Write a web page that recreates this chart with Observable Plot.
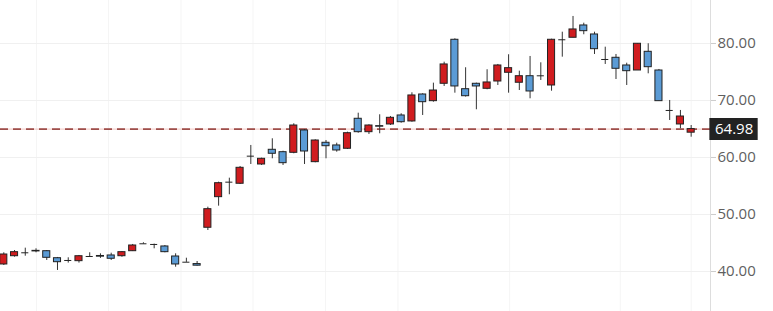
<!DOCTYPE html>
<html><head><meta charset="utf-8">
<script src="https://cdn.jsdelivr.net/npm/d3@7"></script>
<script src="https://cdn.jsdelivr.net/npm/@observablehq/plot@0.6"></script>
<style>body{margin:0;background:#fff}</style>
</head><body><div id="chart"></div>
<script>
const open  = [41.23,42.68,43.28,43.62,43.56,42.33,41.93,41.81,42.63,42.72,42.81,42.68,43.56,44.86,44.74,44.39,42.63,41.63,41.30,47.67,53.04,55.67,55.39,60.23,58.77,61.35,60.93,60.82,64.74,59.18,62.58,62.11,61.53,66.79,64.44,65.50,65.79,67.37,66.32,71.05,69.88,72.93,80.65,71.98,72.93,72.05,73.33,74.86,73.11,74.26,74.33,72.63,80.65,81.00,83.16,81.58,77.19,77.49,76.14,75.26,78.54,75.26,68.25,65.79,64.35];
const high  = [43.28,43.68,44.09,43.98,43.68,42.46,42.40,42.81,43.28,43.10,43.21,43.50,44.74,45.04,44.80,44.56,43.10,42.33,41.75,51.28,55.67,56.37,58.42,62.11,59.88,63.28,61.10,65.91,64.91,63.10,62.98,62.51,64.44,67.77,65.74,67.49,67.19,67.67,71.35,71.18,73.04,76.72,80.82,75.74,73.04,75.39,76.32,78.02,75.14,77.72,76.61,80.75,81.98,84.74,83.56,81.98,79.35,78.07,76.54,79.95,79.95,75.44,70.00,68.25,65.61];
const low   = [41.05,42.51,42.68,43.28,41.93,40.18,41.47,41.47,42.50,42.30,41.93,42.50,43.50,44.80,43.98,43.28,40.75,41.60,40.95,47.19,51.46,53.46,55.26,58.77,58.60,59.77,58.60,60.65,58.77,59.07,59.77,60.93,61.40,64.26,64.04,64.16,65.61,66.02,66.19,67.37,69.70,72.46,71.28,70.60,68.37,71.88,72.63,71.28,71.75,70.30,73.51,71.63,77.60,81.00,81.53,78.07,76.32,73.68,72.63,75.26,74.68,69.88,66.49,65.04,63.56];
const close = [42.98,43.39,43.28,43.52,42.40,41.63,41.93,42.68,42.63,42.60,42.23,43.39,44.56,44.86,44.74,43.39,41.23,41.63,41.02,50.93,55.49,55.67,58.19,60.23,59.77,60.65,59.00,65.61,61.05,62.98,61.98,61.23,64.26,64.44,65.61,65.40,66.96,66.19,70.88,69.70,71.75,76.32,72.46,70.75,72.46,73.16,76.14,75.67,74.26,71.58,74.33,80.65,80.65,82.46,82.16,79.00,77.19,75.56,75.14,79.95,75.84,69.88,68.25,67.19,64.98];
const yTicks = [40, 50, 60, 70, 80];
const xGrid = [3.05, 9.75, 16.5, 23.2, 29.95, 36.7, 47.1, 57.4, 64];
const lastPrice = 64.98;

const data = open.map((o, i) => ({i, open: o, high: high[i], low: low[i], close: close[i]}));
const xMin = -0.307, xMax = 65.8;
const half = 0.33;
const chart = Plot.plot({
  width: 773, height: 311,
  marginLeft: 0, marginRight: 63, marginTop: 0, marginBottom: 0,
  x: {domain: [xMin, xMax], axis: null},
  y: {domain: [32.98, 87.54], axis: null},
  style: {fontFamily: "'Open Sans', sans-serif", fontSize: "15px", background: "#fff"},
  marks: [
    Plot.ruleX(xGrid, {stroke: "#f5f5f5"}),
    Plot.ruleY(yTicks, {stroke: "#f0f0f0"}),
    Plot.ruleX([xMax], {stroke: "#dddddd"}),
    Plot.axisY(yTicks, {anchor: "right", label: null, tickFormat: d => d.toFixed(2), tickSize: 5, tickPadding: 2, stroke: "#cccccc", fill: "#5f5f5f", fontSize: 15}),
    Plot.ruleY([lastPrice], {stroke: "#f3c4c0", strokeWidth: 1}),
    Plot.ruleY([lastPrice], {stroke: "#9e4f4b", strokeWidth: 1.6, strokeDasharray: "8,5"}),
    Plot.ruleX(data, {x: "i", y1: "low", y2: "high", stroke: "#333"}),
    Plot.rect(data, {x1: d => d.i - half, x2: d => d.i + half, y1: "open", y2: "close",
      fill: d => d.close >= d.open ? "#d01c1f" : "#5b9bd5", stroke: "#222", strokeWidth: 1}),
    Plot.ruleY(data.filter(d => Math.abs(d.close - d.open) < 0.05), {y: "open", x1: d => d.i - half, x2: d => d.i + half, stroke: "#222"}),
    Plot.ruleY([lastPrice], {x1: () => xMax - 0.06, x2: () => xMax + 4.44, stroke: "#222", strokeWidth: 22}),
    Plot.text([lastPrice], {x: () => xMax + 2.2, y: d => d, text: d => d.toFixed(2), fill: "#fff", fontSize: 15})
  ]
});
document.getElementById("chart").appendChild(chart);
</script>
</body></html>
